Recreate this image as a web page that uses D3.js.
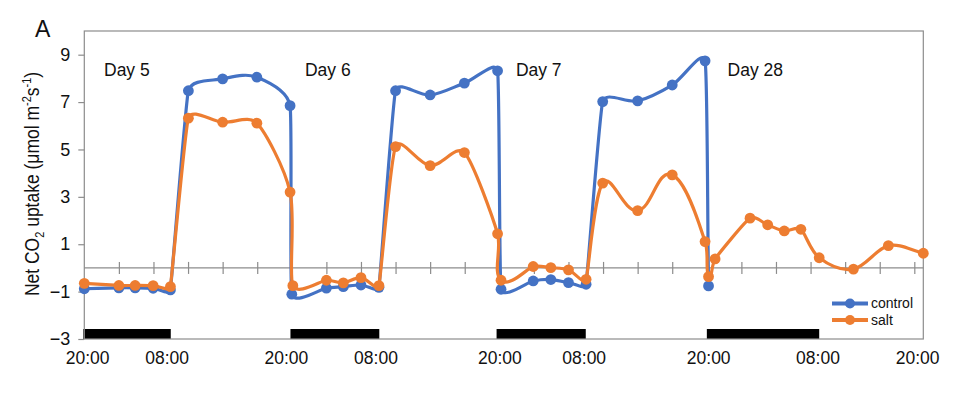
<!DOCTYPE html>
<html>
<head>
<meta charset="utf-8">
<script src="https://cdn.jsdelivr.net/npm/d3@7"></script>
<style>
  html, body { margin: 0; padding: 0; background: #fff; }
  svg { display: block; font-family: "Liberation Sans", Arial, sans-serif; }
</style>
</head>
<body>
<svg id="chart" width="956" height="393"></svg>
<script>
// ---------- data (x in sampling-time units, y in µmol m-2 s-1) ----------
const controlX = [0, 1.0, 1.47, 1.99, 2.49, 3.01, 4.0, 4.99, 5.95, 6.0, 7.0, 7.49, 8.0, 8.52, 9.0, 10.0, 10.99, 11.95, 12.05, 12.98, 13.49, 14.0, 14.51, 14.99, 16.0, 17.0, 17.95, 18.05];
const controlY = [-0.88, -0.84, -0.84, -0.86, -0.93, 7.48, 7.98, 8.05, 6.85, -1.11, -0.85, -0.79, -0.72, -0.82, 7.48, 7.3, 7.8, 8.32, -0.9, -0.55, -0.49, -0.62, -0.69, 7.02, 7.05, 7.72, 8.74, -0.76];
const saltX = [0, 1.0, 1.47, 1.99, 2.49, 3.01, 4.0, 4.99, 5.95, 6.03, 7.0, 7.49, 8.0, 8.52, 9.0, 10.0, 10.99, 11.95, 12.05, 12.98, 13.49, 14.0, 14.51, 14.99, 16.0, 17.0, 17.95, 18.05, 18.24, 19.25, 19.76, 20.24, 20.72, 21.25, 22.24, 23.25, 24.26];
const saltY = [-0.65, -0.74, -0.74, -0.75, -0.79, 6.32, 6.15, 6.11, 3.2, -0.75, -0.52, -0.63, -0.41, -0.75, 5.12, 4.32, 4.87, 1.44, -0.52, 0.06, 0.01, -0.08, -0.48, 3.58, 2.42, 3.93, 1.11, -0.37, 0.38, 2.1, 1.82, 1.56, 1.63, 0.43, -0.05, 0.94, 0.62];

const nightStart = [0, 5.99, 11.95, 18.03];
const nightEnd   = [2.5, 8.53, 14.5, 21.25];

const timeLabels = ["20:00", "08:00", "20:00", "08:00", "20:00", "08:00", "20:00", "08:00", "20:00"];
const timeLabelX = [0.08, 2.38, 5.83, 8.42, 12.0, 14.44, 18.04, 21.2, 24.08];

const dayNames = ["Day 5", "Day 6", "Day 7", "Day 28"];
const dayX     = [0.57, 6.38, 12.48, 18.6];
const dayY     = 8.1;

const yTicks = [-3, -1, 1, 3, 5, 7, 9];
const xMinorTicks = d3.range(1, 25);

const seriesNames = ["control", "salt"];
const colors = ["#4472C4", "#ED7D31"];

// ---------- smoothing curve (spreadsheet-style Bezier smoothing) ----------
function SmoothCurve(context) { this._context = context; }
SmoothCurve.prototype = {
  areaStart() { this._line = 0; },
  areaEnd() { this._line = NaN; },
  lineStart() { this._pts = []; },
  point(px, py) { this._pts.push([+px, +py]); },
  lineEnd() {
    const p = this._pts, n = p.length, c = this._context;
    if (!n) return;
    c.moveTo(p[0][0], p[0][1]);
    if (n === 1) return;
    const dist = (a, b) => Math.hypot(b[0] - a[0], b[1] - a[1]);
    const ctrl = (i, dir) => {
      const prev = p[Math.max(0, i - 1)], cur = p[i], next = p[Math.min(n - 1, i + 1)];
      const tx = next[0] - prev[0], ty = next[1] - prev[1];
      const tl = Math.hypot(tx, ty) || 1;
      const dPrev = i > 0 ? dist(prev, cur) : Infinity;
      const dNext = i < n - 1 ? dist(cur, next) : Infinity;
      const L = Math.min(dPrev, dNext) / 3;
      return [cur[0] + dir * tx / tl * L, cur[1] + dir * ty / tl * L];
    };
    for (let i = 0; i < n - 1; i++) {
      const c1 = ctrl(i, 1), c2 = ctrl(i + 1, -1);
      c.bezierCurveTo(c1[0], c1[1], c2[0], c2[1], p[i + 1][0], p[i + 1][1]);
    }
  }
};
const curveSmooth = context => new SmoothCurve(context);

// ---------- layout ----------
const svg = d3.select("#chart");
const pLeft = 84.3, pRight = 923.3, pTop = 31, pBottom = 339;

const x = d3.scaleLinear().domain([0, 24.26]).range([pLeft, pRight]);
const y = d3.scaleLinear().domain([-3, 10]).range([pBottom, pTop]);

const axisColor = "#8c8c8c";
const textColor = "#111";

// night bars
svg.append("g").selectAll("rect")
  .data(nightStart.map((s, i) => [s, nightEnd[i]]))
  .join("rect")
  .attr("x", d => x(d[0]) - 1)
  .attr("width", d => x(d[1]) - x(d[0]) + 1)
  .attr("y", y(-3) - 10)
  .attr("height", 10)
  .attr("fill", "#000");

// plot frame
svg.append("rect")
  .attr("x", pLeft).attr("y", pTop)
  .attr("width", pRight - pLeft).attr("height", pBottom - pTop)
  .attr("fill", "none").attr("stroke", axisColor).attr("stroke-width", 1.2);

// zero line with crossing ticks
svg.append("line")
  .attr("x1", pLeft).attr("x2", pRight)
  .attr("y1", y(0)).attr("y2", y(0))
  .attr("stroke", axisColor).attr("stroke-width", 1.2);
const zt = svg.append("g")
  .attr("transform", `translate(0,${y(0) - 6})`)
  .call(d3.axisBottom(x).tickValues(xMinorTicks).tickSize(12).tickSizeOuter(0).tickFormat(""));
zt.select(".domain").remove();
zt.selectAll("line").attr("stroke", axisColor).attr("stroke-width", 1.2);

// y axis
const ya = svg.append("g")
  .attr("transform", `translate(${pLeft},0)`)
  .call(d3.axisLeft(y).tickValues(yTicks).tickSize(6).tickPadding(8));
ya.select(".domain").remove();
ya.selectAll("line").attr("stroke", axisColor).attr("stroke-width", 1.2);
ya.selectAll("text").attr("font-size", 18).attr("fill", textColor)
  .attr("font-family", "Liberation Sans, Arial, sans-serif");

// x labels
const xa = svg.append("g")
  .attr("transform", `translate(0,${pBottom})`)
  .call(d3.axisBottom(x).tickValues(timeLabelX).tickSize(0).tickPadding(13)
        .tickFormat((d, i) => timeLabels[i]));
xa.select(".domain").remove();
xa.selectAll("text").attr("font-size", 17.5).attr("fill", textColor)
  .attr("font-family", "Liberation Sans, Arial, sans-serif");

// day labels
svg.append("g").selectAll("text")
  .data(dayNames)
  .join("text")
  .attr("x", (d, i) => x(dayX[i]))
  .attr("y", y(dayY))
  .attr("font-size", 17.5)
  .attr("fill", textColor)
  .text(d => d);

// series
const series = [
  controlX.map((v, i) => [v, controlY[i]]),
  saltX.map((v, i) => [v, saltY[i]])
];
const line = d3.line()
  .x(d => x(d[0])).y(d => y(d[1]))
  .curve(curveSmooth);

series.forEach((pts, si) => {
  const g = svg.append("g");
  g.append("path")
    .attr("d", line(pts))
    .attr("fill", "none")
    .attr("stroke", colors[si])
    .attr("stroke-width", 3.2);
  g.selectAll("circle")
    .data(pts)
    .join("circle")
    .attr("cx", d => x(d[0]))
    .attr("cy", d => y(d[1]))
    .attr("r", 5.4)
    .attr("fill", colors[si]);
});

// legend
const lg = svg.append("g");
seriesNames.forEach((name, i) => {
  const ly = 303.5 + i * 16.5;
  lg.append("line")
    .attr("x1", 832).attr("x2", 868).attr("y1", ly).attr("y2", ly)
    .attr("stroke", colors[i]).attr("stroke-width", 4);
  lg.append("circle").attr("cx", 850).attr("cy", ly).attr("r", 5).attr("fill", colors[i]);
  lg.append("text")
    .attr("x", 871).attr("y", ly).attr("dy", "0.35em")
    .attr("font-size", 14).attr("fill", textColor)
    .text(name);
});

// y-axis title
const yt = svg.append("text")
  .attr("transform", `translate(39,184) rotate(-90) scale(1,1.2)`)
  .attr("text-anchor", "middle")
  .attr("font-size", 17.5)
  .attr("fill", textColor);
yt.append("tspan").text("Net CO");
yt.append("tspan").attr("font-size", 11).attr("dy", 4).text("2");
yt.append("tspan").attr("dy", -4).text(" uptake (μmol m");
yt.append("tspan").attr("font-size", 11).attr("dy", -7).text("-2");
yt.append("tspan").attr("dy", 7).text("s");
yt.append("tspan").attr("font-size", 11).attr("dy", -7).text("-1");
yt.append("tspan").attr("dy", 7).text(")");

// panel letter
svg.append("text")
  .attr("x", 35).attr("y", 37)
  .attr("font-size", 23)
  .attr("fill", textColor)
  .text("A");
</script>
</body>
</html>
